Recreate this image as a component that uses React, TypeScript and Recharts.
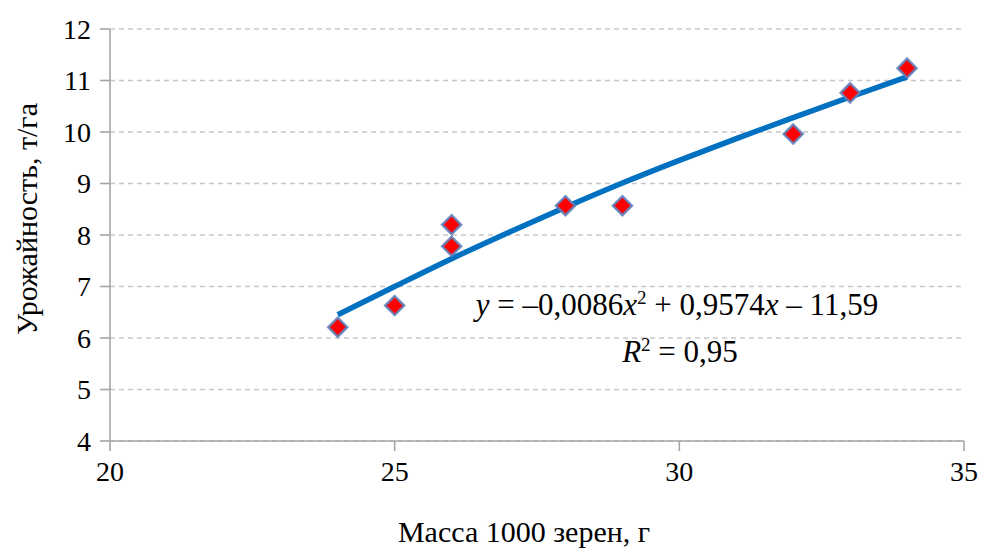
import React from 'react';
import { ComposedChart, Scatter, Line, XAxis, YAxis, CartesianGrid, Label } from 'recharts';

// Observed points: mass of 1000 grains (g) vs yield (t/ha)
const massX = [24, 25, 26, 26, 28, 29, 32, 33, 34];
const yieldY = [6.21, 6.63, 8.2, 7.78, 8.57, 8.57, 9.96, 10.76, 11.24];

// Trend line
const trendX = [24, 25, 26, 27, 28, 29, 30, 31, 32, 33, 34];
const trendY = [6.45, 7.0, 7.54, 8.05, 8.54, 9.01, 9.45, 9.87, 10.28, 10.68, 11.07];

const xTicks = [20, 25, 30, 35];
const yTicks = [4, 5, 6, 7, 8, 9, 10, 11, 12];

const xTitle = 'Масса 1000 зерен, г';
const yTitle = 'Урожайность, т/га';

const points = massX.map((x, i) => ({ x, y: yieldY[i] }));
const trend = trendX.map((x, i) => ({ x, y: trendY[i] }));

const FONT = "'Liberation Serif', 'Times New Roman', serif";
const AXIS = '#A6A6A6';

const Diamond = (props: any) => {
  const { cx, cy } = props;
  const r = 9.5;
  return (
    <polygon
      points={`${cx},${cy - r} ${cx + r},${cy} ${cx},${cy + r} ${cx - r},${cy}`}
      fill="#FF0000"
      stroke="#5A82C0"
      strokeWidth={2.5}
      strokeOpacity={0.85}
    />
  );
};

const BottomTexts = () => (
  <g fontFamily={FONT} fill="#000">
    <text x={524} y={542} textAnchor="middle" fontSize={30}>{xTitle}</text>
    <text x={677} y={315} textAnchor="middle" fontSize={31}>
      <tspan fontStyle="italic">y</tspan>
      <tspan> = –0,0086</tspan>
      <tspan fontStyle="italic">x</tspan>
      <tspan dy={-11} fontSize={19}>2</tspan>
      <tspan dy={11}> + 0,9574</tspan>
      <tspan fontStyle="italic">x</tspan>
      <tspan> – 11,59</tspan>
    </text>
    <text x={680} y={362} textAnchor="middle" fontSize={31}>
      <tspan fontStyle="italic">R</tspan>
      <tspan dy={-11} fontSize={19}>2</tspan>
      <tspan dy={11}> = 0,95</tspan>
    </text>
  </g>
);

const LeftText = () => (
  <g transform="translate(37,219) rotate(-90)">
    <text x={0} y={0} textAnchor="middle" fontSize={30} fontFamily={FONT} fill="#000">{yTitle}</text>
  </g>
);

export default function App() {
  return (
    <div style={{ position: 'absolute', left: 0, top: 0, width: 981, height: 551, background: '#fff' }}>
      <ComposedChart width={981} height={551} margin={{ top: 29, right: 17, left: 0, bottom: 0 }}>
        <CartesianGrid vertical={false} stroke="#C8C8C8" strokeDasharray="5 4" strokeWidth={1.3} />
        <XAxis
          type="number"
          dataKey="x"
          domain={[20, 35]}
          ticks={xTicks}
          height={110}
          tickSize={10}
          tickMargin={10}
          axisLine={{ stroke: AXIS, strokeWidth: 1.6 }}
          tickLine={{ stroke: AXIS, strokeWidth: 1.6 }}
          tick={{ fill: '#000', fontSize: 28, fontFamily: FONT }}
          allowDataOverflow
        >
          <Label content={() => <BottomTexts />} />
        </XAxis>
        <YAxis
          type="number"
          dataKey="y"
          domain={[4, 12]}
          ticks={yTicks}
          width={110}
          tickSize={10}
          tickMargin={9}
          axisLine={{ stroke: AXIS, strokeWidth: 1.6 }}
          tickLine={{ stroke: AXIS, strokeWidth: 1.6 }}
          tick={{ fill: '#000', fontSize: 28, fontFamily: FONT }}
          allowDataOverflow
        >
          <Label content={() => <LeftText />} />
        </YAxis>
        <Scatter data={points} dataKey="y" shape={<Diamond />} isAnimationActive={false} />
        <Line
          data={trend}
          dataKey="y"
          type="monotone"
          stroke="#0070C0"
          strokeWidth={5.5}
          dot={false}
          activeDot={false}
          isAnimationActive={false}
        />
      </ComposedChart>
    </div>
  );
}
